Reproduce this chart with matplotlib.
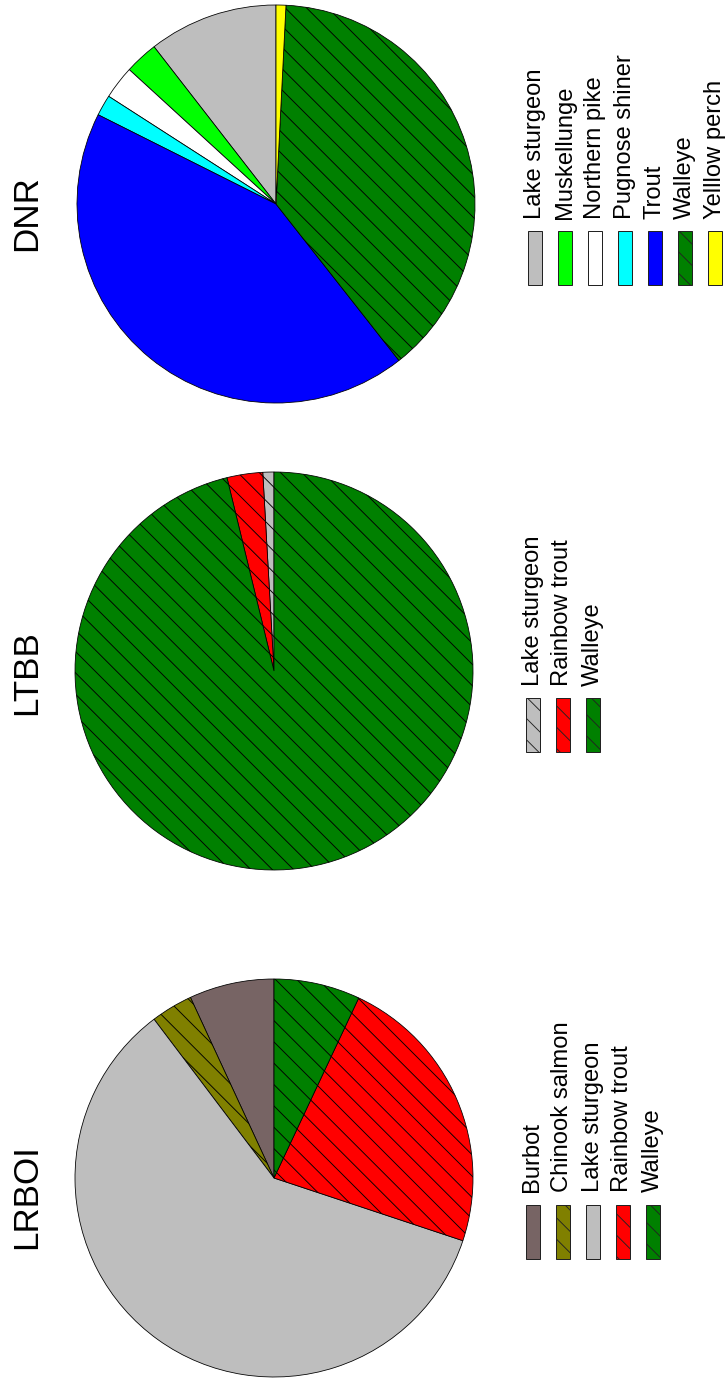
import matplotlib
matplotlib.use("Agg")
import matplotlib.pyplot as plt
from matplotlib.patches import Rectangle

# shares of each species per agency (percent)
dnr_species = ["Lake sturgeon", "Muskellunge", "Northern pike", "Pugnose shiner",
               "Trout", "Walleye", "Yelllow perch"]
dnr_values = [10.5, 2.7, 2.7, 1.7, 43.0, 38.6, 0.8]
dnr_colors = ["#BEBEBE", "#00FF00", "#FFFFFF", "#00FFFF", "#0000FF", "#008000", "#FFFF00"]
dnr_hatched = [False, False, False, False, False, True, False]

ltbb_species = ["Lake sturgeon", "Rainbow trout", "Walleye"]
ltbb_values = [0.9, 2.9, 96.2]
ltbb_colors = ["#BEBEBE", "#FF0000", "#008000"]
ltbb_hatched = [True, True, True]

lrboi_species = ["Burbot", "Chinook salmon", "Lake sturgeon", "Rainbow trout", "Walleye"]
lrboi_values = [6.9, 3.4, 59.6, 23.1, 7.0]
lrboi_colors = ["#776464", "#808000", "#BEBEBE", "#FF0000", "#008000"]
lrboi_hatched = [False, True, False, True, True]

# hatch tile size follows the dpi, so the dpi sets the line spacing (~21px)
W, H, DPI = 727, 1382, 64
PX = 72 / DPI  # points per pixel
plt.rcParams["font.family"] = ["Liberation Sans", "DejaVu Sans"]
plt.rcParams["hatch.linewidth"] = 0.9 * PX

HATCH = "\\"

fig = plt.figure(figsize=(W / DPI, H / DPI), dpi=DPI)

# layout in pixels (y measured from top)
panels = [
    dict(title="DNR", names=dnr_species, vals=dnr_values, cols=dnr_colors, hatched=dnr_hatched,
         cx=276, cy=204, ty=213, leg_x=534.5),
    dict(title="LTBB", names=ltbb_species, vals=ltbb_values, cols=ltbb_colors, hatched=ltbb_hatched,
         cx=274, cy=671, ty=673, leg_x=532.5),
    dict(title="LRBOI", names=lrboi_species, vals=lrboi_values, cols=lrboi_colors, hatched=lrboi_hatched,
         cx=274, cy=1178, ty=1197, leg_x=532.5),
]
R = 199
PAD = 1.03

overlay = fig.add_axes([0, 0, 1, 1])
overlay.set_xlim(0, W)
overlay.set_ylim(H, 0)
overlay.axis("off")

for p in panels:
    hatches = [HATCH if h else "" for h in p["hatched"]]
    half = R * PAD
    ax = fig.add_axes([(p["cx"] - half) / W, 1 - (p["cy"] + half) / H,
                       2 * half / W, 2 * half / H])
    ax.pie(p["vals"], colors=p["cols"], hatch=hatches, startangle=90,
           counterclock=True, wedgeprops=dict(edgecolor="black", linewidth=0.8 * PX))
    ax.set_xlim(-PAD, PAD)
    ax.set_ylim(-PAD, PAD)
    ax.axis("off")

    # title, rotated like the rest of the page
    overlay.text(27, p["ty"], p["title"], rotation=90, fontsize=35 * PX,
                 ha="center", va="center")

    # legend: boxes below, labels reading upward
    box_top = p["cy"] + 26.5
    for i, (name, col, h) in enumerate(zip(p["names"], p["cols"], hatches)):
        x = p["leg_x"] + 30 * i
        overlay.add_patch(Rectangle((x - 7, box_top), 14, 54, facecolor=col,
                                    edgecolor="#222222", linewidth=1.0 * PX, hatch=h))
        overlay.text(x, box_top - 12, name, rotation=90, fontsize=23.7 * PX,
                     ha="center", va="bottom")

fig.savefig("out.png", dpi=DPI)
